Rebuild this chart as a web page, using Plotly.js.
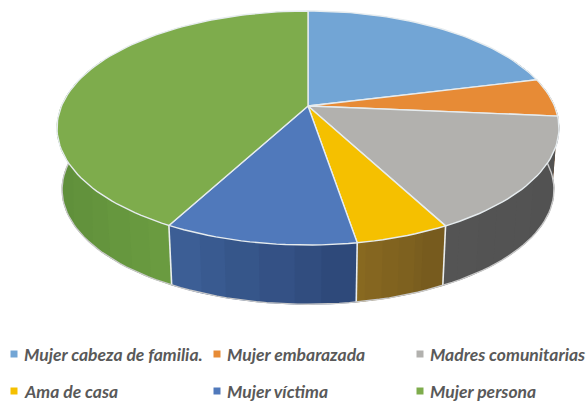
<!DOCTYPE html>
<html><head><meta charset="utf-8">
<script src="https://cdn.plot.ly/plotly-3.0.1.min.js"></script>
<style>html,body{margin:0;padding:0;background:#fff}</style></head>
<body><div id="chart" style="width:588px;height:401px"></div>
<script>
const categories = ["Mujer cabeza de familia.","Mujer embarazada","Madres comunitarias","Ama de casa","Mujer víctima","Mujer persona"];
const values = [21.1,5.3,15.9,5.1,10.4,42.2];
const topColors = ["#72a5d5","#e78b36","#b2b1ae","#f5c000","#5079bb","#7eac4c"];
const wallLeft = ["#446d93","#8f5522","#545454","#8a6a20","#3d6098","#5f8f3a"];
const wallRight = ["#446d93","#8f5522","#525252","#755a1e","#2d4777","#6b9c40"];
const legendX = [13,216,419,13,216,419];
const legendY = [354,354,354,391,391,391];

const cx=308, cy=106, A=246.5, B=112.9, K=0.188, wallScale=0.98, wallDy=62;
function proj(t,s,dy){ // t: clockwise angle from top, radians
  const u=Math.sin(t), v=Math.cos(t), w=1+K*v;
  return [cx+s*A*u/w, cy-s*B*v/w+dy];
}
function hex(c){return [1,3,5].map(i=>parseInt(c.substr(i,2),16));}
function mix(a,b,f){const x=hex(a),y=hex(b);return 'rgb('+x.map((p,i)=>Math.round(p+(y[i]-p)*f)).join(',')+')';}

const total=values.reduce((a,b)=>a+b,0);
const tops=[], walls=[], edges=[];
let acc=0;
const base={type:'scatter',mode:'lines',hoverinfo:'skip',showlegend:false};
values.forEach((val,i)=>{
  const a0=acc/total*2*Math.PI, a1=(acc+val)/total*2*Math.PI; acc+=val;
  const n=Math.max(4,Math.ceil((a1-a0)/0.03));
  const xs=[cx], ys=[cy], wx=[], wy=[], wbx=[], wby=[];
  for(let k=0;k<=n;k++){
    const t=a0+(a1-a0)*k/n;
    const p=proj(t,1,0);xs.push(p[0]);ys.push(p[1]);
    if(Math.cos(t)<=0.45){wx.push(p[0]);wy.push(p[1]);const b=proj(t,wallScale,wallDy);wbx.unshift(b[0]);wby.unshift(b[1]);}
  }
  xs.push(cx);ys.push(cy);
  tops.push({...base,name:categories[i],x:xs,y:ys,fill:'toself',fillcolor:topColors[i],line:{color:'#e6ecef',width:1.4}});
  if(wx.length>1){
    // solid underlay keeps the strip joins from showing the page through
    const mid=mix(wallLeft[i],wallRight[i],0.5);
    walls.push({...base,x:wx.concat(wbx,[wx[0]]),y:wy.concat(wby,[wy[0]]),fill:'toself',fillcolor:mid,line:{color:mid,width:0.8}});
    const xMin=Math.min(...wx), xMax=Math.max(...wx);
    const m=6;
    for(let j=0;j<m;j++){
      const lo=xMin+(xMax-xMin)*j/m, hi=xMin+(xMax-xMin)*(j+1)/m;
      const idx=wx.map((x,q)=>q).filter(q=>wx[q]>=lo-8&&wx[q]<=hi+8);
      if(idx.length<2) continue;
      const tx=idx.map(q=>wx[q]), ty=idx.map(q=>wy[q]);
      const rev=wx.length-1;
      const bx=idx.map(q=>wbx[rev-q]).reverse(), by=idx.map(q=>wby[rev-q]).reverse();
      const col=mix(wallLeft[i],wallRight[i],(j+0.5)/m);
      walls.push({...base,x:tx.concat(bx,[tx[0]]),y:ty.concat(by,[ty[0]]),fill:'toself',fillcolor:col,line:{width:0}});
    }
  }
  if(Math.cos(a0)<-0.2){
    const p=[proj(a0,1,0),proj(a0,wallScale,wallDy)];
    edges.push({...base,x:p.map(q=>q[0]),y:p.map(q=>q[1]),line:{color:'#e9edef',width:1.6}});
  }
});
{
  const xs=[],ys=[];
  for(let d=72;d<=288;d+=2){const p=proj(d*Math.PI/180,wallScale,wallDy);xs.push(p[0]);ys.push(p[1]);}
  edges.push({...base,x:xs,y:ys,line:{color:'#c9c9c9',width:1.4}});
}
const markers=categories.map((c,i)=>({type:'scatter',mode:'markers',name:c,x:[legendX[i]+1],y:[legendY[i]],
  marker:{symbol:'square',size:7,color:topColors[i]},showlegend:false,hoverinfo:'name'}));
const annotations=categories.map((c,i)=>({x:legendX[i]+9,y:legendY[i],xref:'x',yref:'y',text:'<b><i>'+c+'</i></b>',
  showarrow:false,xanchor:'left',yanchor:'middle',font:{family:'Lato',size:17.5,color:'#595959'}}));

Plotly.newPlot('chart',[...walls,...edges,...tops,...markers],{
  width:588,height:401,margin:{l:0,r:0,t:0,b:0},paper_bgcolor:'#fff',plot_bgcolor:'#fff',
  xaxis:{range:[0,588],visible:false,fixedrange:true},
  yaxis:{range:[401,0],visible:false,fixedrange:true},
  annotations,showlegend:false
},{displayModeBar:false,staticPlot:true});
</script></body></html>
